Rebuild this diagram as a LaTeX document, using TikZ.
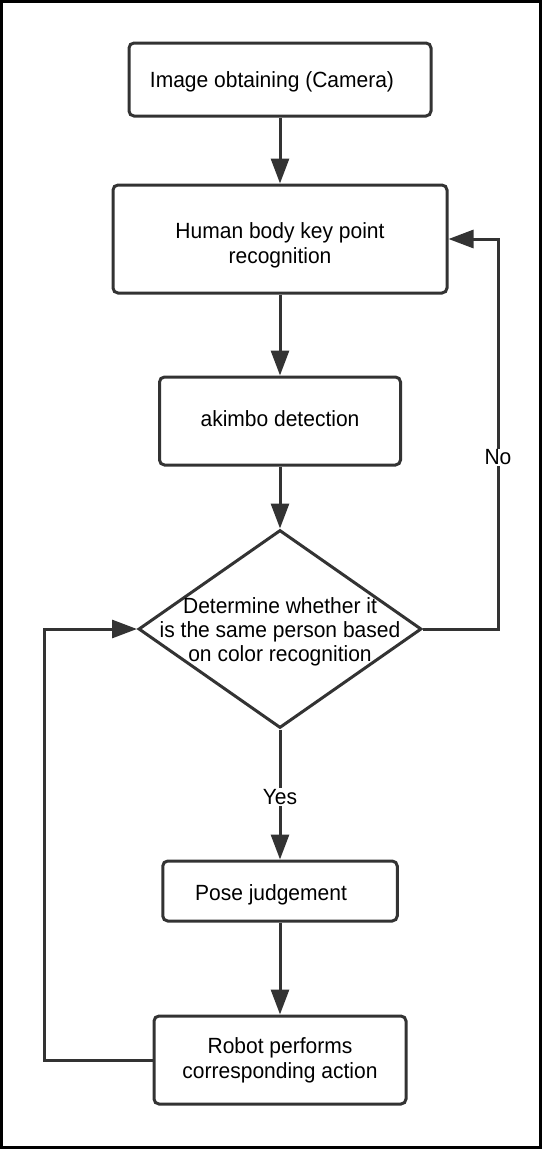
\documentclass[tikz,border=0pt]{standalone}
\usepackage{fontspec}
\setmainfont[FakeStretch=0.955]{Liberation Sans}
\usetikzlibrary{shapes.geometric,arrows.meta}
\definecolor{ln}{HTML}{333333}
\newcommand\shdn[2]{\raisebox{-#1}[\height][\depth]{#2}}
\begin{document}
\begin{tikzpicture}[x=1pt,y=-1pt,
  box/.style={draw=ln, line width=3pt, rounded corners=5pt, inner sep=0pt, align=center, font=\fontsize{22}{25}\selectfont},
  conn/.style={draw=ln, line width=3pt, -{Triangle[length=25pt,width=18pt]}},
  lab/.style={fill=white, inner sep=1pt, font=\fontsize{22}{25}\selectfont}]
\useasboundingbox (0,0) rectangle (542,1149);
\draw[line width=3pt] (1.5,1.5) rectangle (540.5,1147.5);

\node[box, minimum width=302pt, minimum height=73pt] (b1) at (280,79.5) {\shdn{2pt}{Image obtaining (Camera)}\hspace*{16pt}};
\node[box, minimum width=334pt, minimum height=108pt] (b2) at (280,239) {\shdn{6pt}{Human body key point}\\\shdn{6pt}{recognition}};
\node[box, minimum width=241pt, minimum height=88pt] (b3) at (280,421) {\shdn{-2pt}{akimbo detection}};
\node[draw=ln, line width=3pt, diamond, minimum width=283pt, minimum height=198pt, inner sep=0pt] (d) at (280,629) {};
\node[align=center, font=\fontsize{22}{24}\selectfont] (dt) at (280,632) {Determine whether it\\is the same person based\\on color recognition};
\node[box, minimum width=234.5pt, minimum height=60pt] (p) at (280,891) {\shdn{4pt}{Pose judgement}\hspace*{18pt}};
\node[box, minimum width=252pt, minimum height=88pt] (r) at (280,1060) {Robot performs\\corresponding action};

\coordinate (lc) at (44,1060);
\coordinate (rc) at (498,629);

\draw[conn] (b1.south) -- (b2.north);
\draw[conn] (b2.south) -- (b3.north);
\draw[conn] (b3.south) -- (d.north);
\draw[conn] (d.south) -- node[lab, pos=0.52] (yes) {Yes} (p.north);
\draw[conn] (p.south) -- (r.north);
\draw[conn] (r.west) -- (lc) |- (d.west);
\draw[conn] (d.east) -- (rc) |- node[lab, pos=0.22] (no) {No} (b2.east);
\end{tikzpicture}
\end{document}
